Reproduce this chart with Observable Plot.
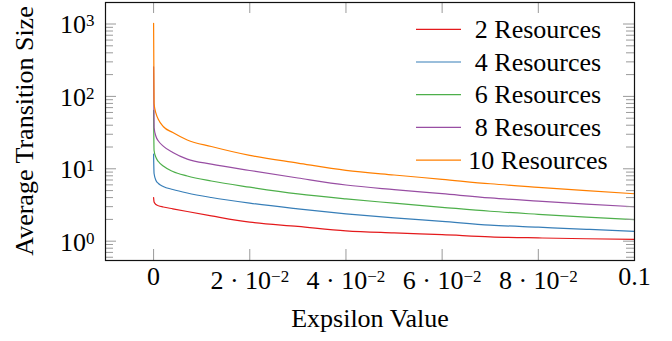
<!DOCTYPE html>
<html><head><meta charset="utf-8">
<script src="https://cdn.jsdelivr.net/npm/d3@7"></script>
<script src="https://cdn.jsdelivr.net/npm/@observablehq/plot@0.6"></script>
<style>
html,body{margin:0;padding:0;background:#fff;}
#chart svg{display:block;}
</style></head><body><div id="chart"></div>
<script>
// ---- data ----
const epsilon = [0, 0.0001, 0.0005, 0.001, 0.002, 0.004, 0.007, 0.012, 0.02, 0.03, 0.04, 0.05, 0.06, 0.07, 0.08, 0.09, 0.1];
const res2  = [4, 3.48, 3.21, 3.09, 2.97, 2.80, 2.57, 2.24, 1.83, 1.60, 1.39, 1.30, 1.23, 1.15, 1.11, 1.08, 1.06];
const res4  = [16, 8.61, 6.89, 6.27, 5.70, 5.18, 4.63, 4.01, 3.35, 2.80, 2.39, 2.10, 1.88, 1.67, 1.56, 1.46, 1.37];
const res6  = [64, 17.9, 14.3, 12.6, 10.9, 9.18, 7.96, 6.78, 5.57, 4.49, 3.83, 3.35, 2.94, 2.59, 2.35, 2.15, 1.98];
const res8  = [256, 37.2, 27.9, 24.2, 20.6, 16.8, 13.6, 11.6, 9.47, 7.46, 5.97, 5.16, 4.53, 3.96, 3.58, 3.26, 2.99];
const res10 = [1024, 79.8, 58.1, 48.0, 38.4, 31.7, 25.0, 20.3, 15.3, 12.0, 9.53, 8.21, 7.16, 6.21, 5.55, 5.00, 4.52];
const seriesNames = ["2 Resources", "4 Resources", "6 Resources", "8 Resources", "10 Resources"];
const seriesColors = ["#e41a1c", "#377eb8", "#4daf4a", "#984ea3", "#ff7f00"];
const xTicks = [0, 0.02, 0.04, 0.06, 0.08, 0.1];
const xTickLabels = ["0", "2 · 10^−2", "4 · 10^−2", "6 · 10^−2", "8 · 10^−2", "0.1"];
const yTicks = [1, 10, 100, 1000];
const yTickLabels = ["10^0", "10^1", "10^2", "10^3"];
const yMinorTicks = [0.6, 0.7, 0.8, 0.9, 2, 3, 4, 5, 6, 7, 8, 9, 20, 30, 40, 50, 60, 70, 80, 90, 200, 300, 400, 500, 600, 700, 800, 900];
const xLabel = "Expsilon Value";
const yLabel = "Average Transition Size";

const seriesValues = [res2, res4, res6, res8, res10];
const rows = [];
seriesValues.forEach((vals, s) => vals.forEach((v, i) => rows.push({eps: epsilon[i], value: v, series: seriesNames[s]})));

const W = 672, H = 341, mL = 105, mR = 38, mT = 2, mB = 81;
const innerW = W - mL - mR, innerH = H - mT - mB;
const font = "'Liberation Serif','Times New Roman',serif";
const FS = 26;
const majorLen = 11, minorLen = 8, tickColor = "#9a9a9a";
const isSup = (s) => s.includes("^");

const plot = Plot.plot({
  width: W, height: H,
  marginLeft: mL, marginRight: mR, marginTop: mT, marginBottom: mB,
  style: {fontFamily: font, fontSize: FS + "px", background: "white", color: "black"},
  x: {domain: [-0.01, 0.1], axis: null},
  y: {type: "log", domain: [0.541, 1982], axis: null},
  color: {domain: seriesNames, range: seriesColors},
  marks: [
    Plot.line(rows, {x: "eps", y: "value", stroke: "series", strokeWidth: 1.2, curve: "monotone-x"}),
    Plot.ruleX(xTicks, {insetTop: innerH - majorLen, stroke: tickColor}),
    Plot.ruleX(xTicks, {insetBottom: innerH - majorLen, stroke: tickColor}),
    Plot.ruleY(yTicks, {insetRight: innerW - majorLen, stroke: tickColor}),
    Plot.ruleY(yTicks, {insetLeft: innerW - majorLen, stroke: tickColor}),
    Plot.ruleY(yMinorTicks, {insetRight: innerW - minorLen, stroke: tickColor}),
    Plot.ruleY(yMinorTicks, {insetLeft: innerW - minorLen, stroke: tickColor}),
    Plot.frame({stroke: "#111", strokeWidth: 1.2}),
    Plot.text(xTicks, {filter: (d, i) => !isSup(xTickLabels[i]), x: d => d, text: (d, i) => xTickLabels[i],
      frameAnchor: "bottom", dy: 24.4, fill: "black"}),
    Plot.text(xTicks, {filter: (d, i) => isSup(xTickLabels[i]), x: d => d, text: (d, i) => xTickLabels[i],
      frameAnchor: "bottom", dy: 28.2, fill: "black"}),
    Plot.text(yTicks, {y: d => d, text: (d, i) => yTickLabels[i], frameAnchor: "left", textAnchor: "end",
      dx: -11, dy: 1, fill: "black"}),
    Plot.text([xLabel], {text: d => d, frameAnchor: "bottom", dy: 66, fill: "black"})
  ]
});

const svg = d3.select(plot);

// superscripts in tick labels
svg.selectAll("text").each(function () {
  const t = this.textContent;
  if (!isSup(t)) return;
  const [base, sup] = t.split("^");
  this.textContent = "";
  const sel = d3.select(this);
  sel.append("tspan").text(base);
  sel.append("tspan").attr("dy", "-7").attr("font-size", "17px").text(sup);
});

// y axis title (rotated)
svg.append("text")
  .attr("transform", `translate(33,${mT + innerH / 2}) rotate(-90)`)
  .attr("text-anchor", "middle")
  .attr("font-family", font).attr("font-size", FS).attr("fill", "black")
  .text(yLabel);

// legend
const lg = svg.append("g").attr("aria-label", "legend");
const legendTop = 29.3, legendStep = 32.7;
seriesNames.forEach((name, i) => {
  const yc = legendTop + i * legendStep;
  lg.append("line").attr("x1", 416).attr("x2", 461).attr("y1", yc).attr("y2", yc)
    .attr("stroke", seriesColors[i]).attr("stroke-width", 1.2);
  lg.append("text").attr("x", 538).attr("y", yc + 8.6).attr("text-anchor", "middle")
    .attr("font-family", font).attr("font-size", FS).attr("fill", "black").text(name);
});

document.getElementById("chart").appendChild(plot);
</script>
</body></html>
